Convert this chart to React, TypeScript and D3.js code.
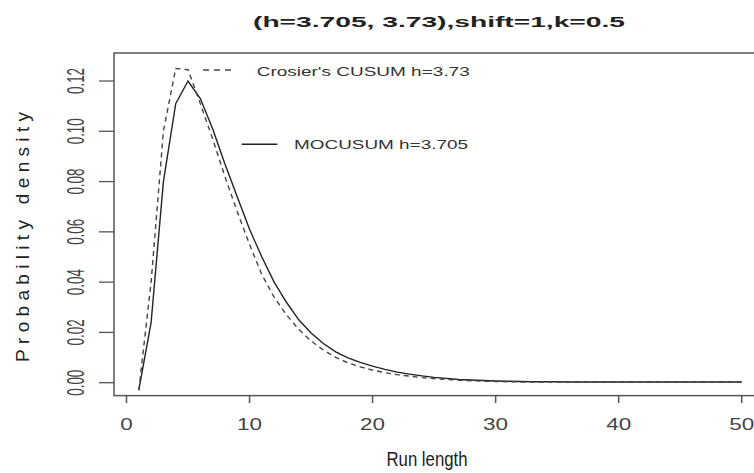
import React from 'react'
import * as d3 from 'd3'

// run length 1..50
const runLength = d3.range(1, 51)

const mocusum = [
  -0.003, 0.024, 0.08, 0.111, 0.12, 0.113, 0.101, 0.087, 0.074, 0.061,
  0.05, 0.04, 0.032, 0.025, 0.0198, 0.0156, 0.0123, 0.0099, 0.0081, 0.0066,
  0.0053, 0.0042, 0.0034, 0.0027, 0.0021, 0.0017, 0.0013, 0.0011, 0.0009, 0.0007,
  0.0006, 0.0005, 0.0004, 0.0004, 0.0004, 0.0003, 0.0003, 0.0003, 0.0003, 0.0003,
  0.0003, 0.0003, 0.0003, 0.0003, 0.0003, 0.0003, 0.0003, 0.0003, 0.0003, 0.0003,
]

const crosier = [
  -0.003, 0.04, 0.1, 0.125, 0.1245, 0.111, 0.097, 0.082, 0.068, 0.055,
  0.043, 0.034, 0.027, 0.0212, 0.0166, 0.013, 0.0101, 0.0079, 0.0063, 0.005,
  0.004, 0.0032, 0.0026, 0.002, 0.0016, 0.0013, 0.001, 0.0008, 0.0006, 0.0005,
  0.0004, 0.0003, 0.0003, 0.0003, 0.0003, 0.0003, 0.0003, 0.0003, 0.0003, 0.0003,
  0.0003, 0.0003, 0.0003, 0.0003, 0.0003, 0.0003, 0.0003, 0.0003, 0.0003, 0.0003,
]

const xTicks = [0, 10, 20, 30, 40, 50]
const yTicks = [0, 0.02, 0.04, 0.06, 0.08, 0.1, 0.12]

const title = '(h=3.705, 3.73),shift=1,k=0.5'
const legendCrosier = "Crosier's CUSUM h=3.73"
const legendMocusum = 'MOCUSUM h=3.705'

const W = 754
const H = 473
const box = { left: 114, right: 765, top: 53, bottom: 395.6 }
const font = '"Liberation Sans", Arial, sans-serif'
const ink = '#333'

export default function App() {
  const x = d3.scaleLinear().domain([0, 50]).range([126.5, 741.7])
  const y = d3.scaleLinear().domain([0, 0.12]).range([382.7, 81])

  const line = d3
    .line<number>()
    .x((_, i) => x(runLength[i]))
    .y(d => y(d))

  return (
    <svg
      width={W}
      height={H}
      style={{ position: 'absolute', left: 0, top: 0, background: '#fff' }}
      fontFamily={font}
    >
      <text
        x={439}
        y={27}
        textAnchor="middle"
        fontSize={14}
        fontWeight="bold"
        fill="#222"
        textLength={372}
        lengthAdjust="spacingAndGlyphs"
      >
        {title}
      </text>

      <rect
        x={box.left}
        y={box.top}
        width={box.right - box.left}
        height={box.bottom - box.top}
        fill="none"
        stroke="#555"
        strokeWidth={1.5}
      />

      {/* y axis */}
      {yTicks.map(t => (
        <g key={t}>
          <line x1={99} x2={box.left} y1={y(t)} y2={y(t)} stroke="#555" strokeWidth={1.3} />
          <text
            transform={`translate(84,${y(t)}) rotate(-90)`}
            textAnchor="middle"
            fontSize={23}
            fill="#444"
            textLength={26}
            lengthAdjust="spacingAndGlyphs"
          >
            {t.toFixed(2)}
          </text>
        </g>
      ))}

      {/* x axis */}
      {xTicks.map(t => (
        <g key={t}>
          <line x1={x(t)} x2={x(t)} y1={box.bottom} y2={403} stroke="#555" strokeWidth={1.5} />
          <text
            x={x(t)}
            y={430}
            textAnchor="middle"
            fontSize={16}
            fill="#444"
            textLength={12.5 * String(t).length}
            lengthAdjust="spacingAndGlyphs"
          >
            {t}
          </text>
        </g>
      ))}

      <text
        x={427}
        y={466}
        textAnchor="middle"
        fontSize={21}
        fill="#222"
        textLength={81}
        lengthAdjust="spacingAndGlyphs"
      >
        Run length
      </text>
      <text
        transform="translate(29,237) rotate(-90)"
        textAnchor="middle"
        fontSize={19}
        fill="#222"
        textLength={250}
        lengthAdjust="spacing"
      >
        Probability density
      </text>

      {/* curves */}
      <path d={line(mocusum) ?? ''} fill="none" stroke="#222" strokeWidth={1.4} />
      <path
        d={line(crosier) ?? ''}
        fill="none"
        stroke="#444"
        strokeWidth={1.4}
        strokeDasharray="5,4"
      />

      {/* legend */}
      <line x1={203} x2={235} y1={70} y2={70} stroke="#444" strokeWidth={1.4} strokeDasharray="6,5" />
      <text
        x={256.7}
        y={75.5}
        fontSize={13.5}
        fill={ink}
        textLength={213}
        lengthAdjust="spacingAndGlyphs"
      >
        {legendCrosier}
      </text>
      <line x1={241.7} x2={277.3} y1={144.3} y2={144.3} stroke="#222" strokeWidth={1.4} />
      <text
        x={294}
        y={149.3}
        fontSize={13.5}
        fill={ink}
        textLength={174}
        lengthAdjust="spacingAndGlyphs"
      >
        {legendMocusum}
      </text>
    </svg>
  )
}
